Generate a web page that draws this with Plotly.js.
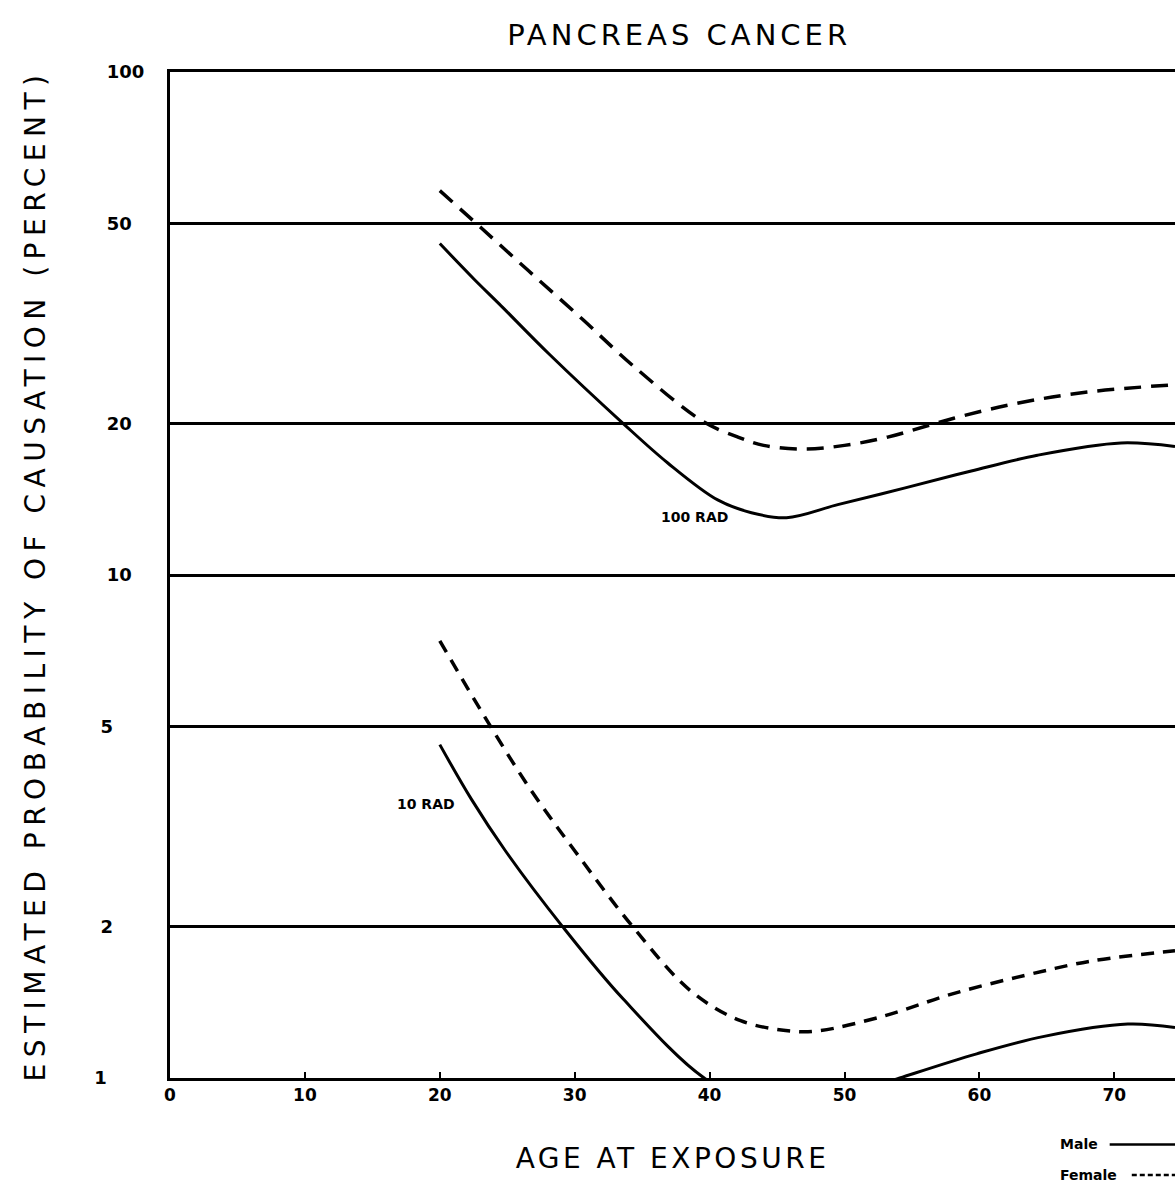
<!DOCTYPE html>
<html>
<head>
<meta charset="utf-8">
<script src="https://cdn.plot.ly/plotly-3.0.1.min.js"></script>
<style>
html,body{margin:0;padding:0;background:#fff;}
#chart{width:1175px;height:1189px;}
.gtitle{letter-spacing:4px;}
.xtitle{letter-spacing:3.5px;}
.ytitle{letter-spacing:6.5px;}
</style>
</head>
<body>
<div id="chart"></div>
<script>
// Age at exposure (years) and estimated probability of causation (percent)
const maleAge100 = [20, 22.6, 24.4, 28.1, 33.6, 36.9, 40.6, 43.1, 45.7, 49.5, 54.5, 59.4, 64.3, 70.5, 74.5];
const maleVal100 = [45.6, 38.6, 34.6, 27.5, 20, 16.7, 14.1, 13.3, 13.0, 13.8, 14.9, 16.1, 17.3, 18.3, 18.0];

const femaleAge100 = [20, 23.1, 26.6, 30.6, 34.3, 39.5, 42.1, 44, 47, 50, 53.2, 58.1, 63, 68, 74.5];
const femaleVal100 = [58.1, 48.9, 40.2, 32.2, 26.1, 20.2, 18.8, 18.1, 17.8, 18.1, 18.8, 20.5, 22.0, 23.1, 23.9];

const maleAge10 = [20, 22.35, 24.86, 29.1, 33.6, 39.6, 43, 46, 50, 54.1, 59.8, 64.8, 71, 74.5];
const maleVal10 = [4.6, 3.58, 2.83, 2.0, 1.435, 1.0, 0.91, 0.875, 0.92, 1.0, 1.117, 1.21, 1.28, 1.26];

const femaleAge10 = [20, 23.76, 26.8, 30.04, 34.3, 38.6, 42.3, 46, 48, 53, 58, 63.4, 68.4, 74.5];
const femaleVal10 = [7.4, 5.0, 3.72, 2.82, 2.0, 1.49, 1.30, 1.24, 1.24, 1.33, 1.47, 1.60, 1.71, 1.79];

const NB = '\u00a0';
const yTickVals = [1, 2, 5, 10, 20, 50, 100];
const yTickText = ['1' + NB.repeat(6), '2' + NB.repeat(5), '5' + NB.repeat(5), '10' + NB.repeat(2), '20' + NB.repeat(2), '50' + NB.repeat(2), '100'];
const xTickVals = [0, 10, 20, 30, 40, 50, 60, 70];
const xTickText = ['0', '10', '20', '30', '40', '50', '60', '70'];

const solid = {color: '#000', width: 3, shape: 'spline', smoothing: 1};
const dashBig = {color: '#000', width: 3.5, shape: 'spline', smoothing: 1, dash: '17px,10px'};
const dashSmall = {color: '#000', width: 3.5, shape: 'spline', smoothing: 1, dash: '13px,9px'};

const traces = [
  {x: maleAge100, y: maleVal100, mode: 'lines', line: solid, name: 'Male 100 RAD', showlegend: false},
  {x: femaleAge100, y: femaleVal100, mode: 'lines', line: dashBig, name: 'Female 100 RAD', showlegend: false},
  {x: maleAge10, y: maleVal10, mode: 'lines', line: solid, name: 'Male 10 RAD', showlegend: false},
  {x: femaleAge10, y: femaleVal10, mode: 'lines', line: dashSmall, name: 'Female 10 RAD', showlegend: false}
];

const font = 'DejaVu Sans, Liberation Sans, sans-serif';

const layout = {
  width: 1175, height: 1189,
  margin: {l: 170, r: 0, t: 72, b: 111},
  paper_bgcolor: '#fff', plot_bgcolor: '#fff',
  showlegend: false,
  title: {text: 'PANCREAS CANCER', font: {family: font, size: 29, color: '#000'}, x: 0.578, xanchor: 'center', y: 0.971, yanchor: 'middle'},
  xaxis: {
    range: [0, 74.5], tickvals: xTickVals, ticktext: xTickText,
    showgrid: false, zeroline: false,
    showline: true, mirror: true, linecolor: '#000', linewidth: 3,
    ticks: 'inside', ticklen: 6, tickwidth: 2, tickcolor: '#000',
    tickfont: {family: font, size: 17, color: '#000', weight: 'bold'},
    title: {text: 'AGE AT EXPOSURE', font: {family: font, size: 28, color: '#000'}, standoff: 44}
  },
  yaxis: {
    type: 'log', range: [0, 2], tickvals: yTickVals, ticktext: yTickText,
    showgrid: true, gridcolor: '#000', gridwidth: 3, zeroline: false,
    showline: true, linecolor: '#000', linewidth: 3,
    ticks: '', ticklabelstandoff: 19,
    tickfont: {family: font, size: 18, color: '#000', weight: 'bold'},
    title: {text: 'ESTIMATED PROBABILITY OF CAUSATION (PERCENT)', font: {family: font, size: 28, color: '#000'}, standoff: 41}
  },
  annotations: [
    {x: 38.9, y: 1.115, xref: 'x', yref: 'y', text: '100 RAD', showarrow: false, font: {family: font, size: 14, color: '#000', weight: 'bold'}},
    {x: 19.0, y: 0.545, xref: 'x', yref: 'y', text: '10 RAD', showarrow: false, font: {family: font, size: 14, color: '#000', weight: 'bold'}},
    {x: 0.8835, y: -0.066, xref: 'paper', yref: 'paper', xanchor: 'left', yanchor: 'middle', text: 'Male', showarrow: false, font: {family: font, size: 14, color: '#000', weight: 'bold'}},
    {x: 0.8835, y: -0.0965, xref: 'paper', yref: 'paper', xanchor: 'left', yanchor: 'middle', text: 'Female', showarrow: false, font: {family: font, size: 14, color: '#000', weight: 'bold'}}
  ],
  shapes: [
    {type: 'line', xref: 'paper', yref: 'paper', x0: 0.935, x1: 1.0, y0: -0.066, y1: -0.066, line: {color: '#000', width: 2.5}},
    {type: 'line', xref: 'paper', yref: 'paper', x0: 0.957, x1: 1.0, y0: -0.0965, y1: -0.0965, line: {color: '#000', width: 2.5, dash: '5px,3px'}}
  ]
};

Plotly.newPlot('chart', traces, layout, {displayModeBar: false, staticPlot: true});
</script>
</body>
</html>
